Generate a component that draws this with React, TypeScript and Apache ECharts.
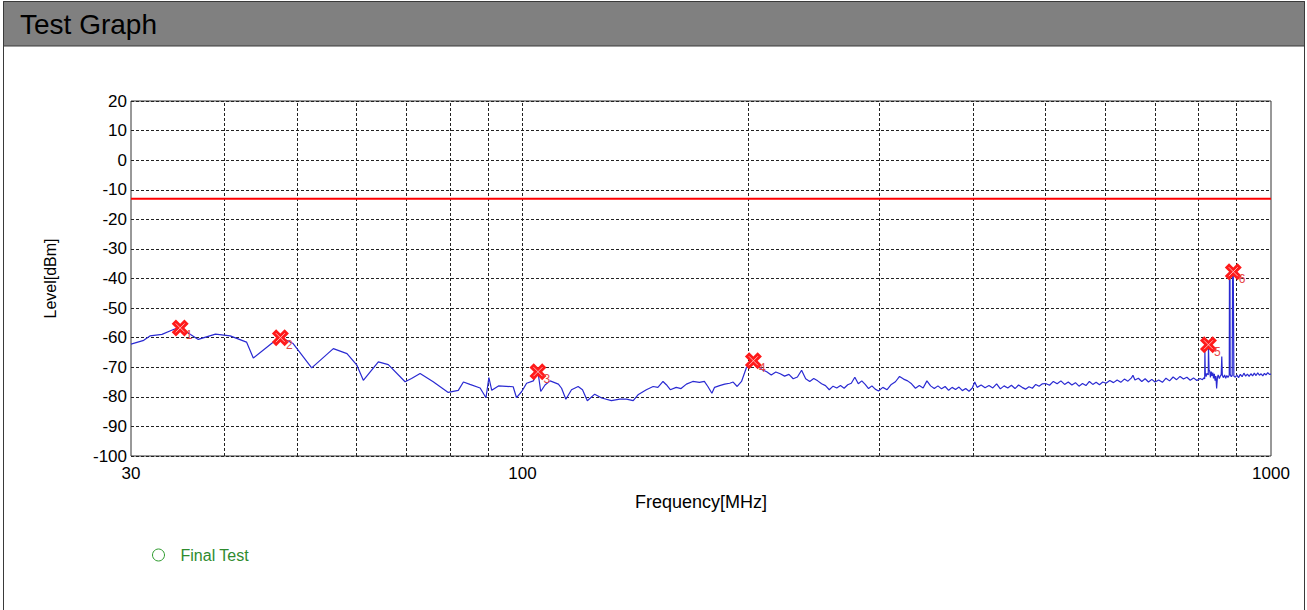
import React, { useEffect, useRef } from "react";
import * as echarts from "echarts";

// ---------- data ----------
const chartTitle = "Test Graph";
const xAxisName = "Frequency[MHz]";
const yAxisName = "Level[dBm]";
const xTickLabels = [30, 100, 1000];
const xGridFreqs = [40, 50, 60, 70, 80, 90, 100, 200, 300, 400, 500, 600, 700, 800, 900];
const yMin = -100;
const yMax = 20;
const yStep = 10;

const limitFreqs = [30, 1000];
const limitLevels = [-13, -13];

const markerFreqs = [34.9, 47.5, 104.9, 203.5, 825, 890.5];
const markerLevels = [-56.7, -60.0, -71.5, -67.8, -62.4, -37.7];
const markerLabels = ["1", "2", "3", "4", "5", "6"];
const legendName = "Final Test";

// [MHz, dBm]
const tracePoints: [number, number][] = [
  [30, -62.2], [31.2, -60.9], [31.8, -59.4], [33.0, -58.9], [34.0, -57.5], [34.7, -56.6],
  [35.6, -58.1], [36.9, -60.6], [38.9, -58.8], [40.7, -59.4], [42.8, -61.5], [43.7, -66.9],
  [46.0, -62.4], [47.4, -59.8], [49.4, -62.0], [52.3, -70.2], [55.9, -63.7], [58.3, -65.4],
  [60.1, -69.3], [61.3, -74.4], [64.2, -68.2], [66.2, -69.1], [69.7, -74.9], [71.1, -73.8],
  [73.0, -72.1], [76.0, -74.9], [79.6, -78.5], [82.1, -77.8], [83.4, -75.0], [85.1, -75.8],
  [87.8, -77.0], [89.4, -80.3], [90.2, -73.5], [91.0, -77.8], [92.9, -76.3], [97.2, -76.6],
  [98.2, -80.3], [99.8, -78.2], [101.3, -75.4], [103.4, -74.6], [104.9, -71.6], [105.8, -78.2],
  [107.2, -76.0], [108.9, -74.6], [111.7, -75.7], [112.8, -77.1], [114.3, -80.8], [116.3, -77.6],
  [118.7, -76.5], [120.3, -77.6], [122.1, -81.3], [124.9, -79.1], [127.6, -80.4], [131.5, -81.3],
  [134.9, -80.8], [137.7, -80.8], [140.6, -81.3], [142.7, -79.3], [146.4, -77.6], [149.5, -76.5],
  [151.7, -76.8], [154.1, -74.8], [155.7, -75.9], [157.6, -77.6], [160.5, -76.8], [162.9, -77.2],
  [165.6, -75.7], [168.9, -74.8], [172.4, -75.1], [175.0, -74.8], [176.9, -76.5], [179.1, -78.8],
  [180.6, -76.8], [183.4, -76.2], [186.3, -75.7], [189.2, -75.4], [191.2, -75.0], [193.6, -76.5],
  [196.2, -74.8], [199.2, -70.1], [203.2, -67.6],
  [206, -69.3], [209, -70.8], [212, -71.5], [215, -72.6], [218, -71.6], [221, -72.2],
  [224, -73.0], [227, -72.4], [230, -73.9], [233, -73.3], [236, -71.0], [239, -73.9],
  [242, -74.8], [245, -73.8], [248, -74.6], [251, -75.6], [254, -76.2], [257, -77.6],
  [260, -76.4], [263, -77.0], [266, -76.2], [269, -77.1], [272, -75.9], [275, -75.4],
  [278, -73.4], [281, -75.6], [284, -74.6], [287, -75.8], [290, -77.2], [293, -76.3],
  [296, -77.4], [299, -78.0],
  [303, -76.8], [307, -77.6], [311, -75.8], [315, -74.9], [319, -73.1], [323, -74.0],
  [327, -74.6], [331, -75.6], [335, -77.1], [339, -76.2], [343, -77.0], [347, -74.6],
  [351, -76.3], [355, -77.2], [359, -76.3], [363, -77.3], [367, -76.5], [371, -77.8],
  [375, -76.8], [379, -77.5], [383, -76.7], [387, -77.9], [391, -77.2], [395, -78.1],
  [399, -77.0],
  [402, -75.0], [405, -76.8], [410, -76.0], [415, -76.9], [420, -76.2], [425, -77.0],
  [430, -75.6], [435, -77.3], [440, -76.3], [445, -77.0], [450, -76.1], [455, -77.2],
  [460, -76.0], [465, -76.8], [470, -77.4], [475, -76.6], [480, -77.1], [485, -75.8],
  [490, -76.4], [495, -75.6], [500, -75.5],
  [506, -76.1], [512, -74.8], [518, -75.6], [524, -74.6], [530, -75.8], [536, -75.0],
  [542, -76.0], [548, -75.2], [554, -76.4], [560, -75.5], [566, -76.2], [572, -74.8],
  [578, -75.8], [584, -75.1], [590, -75.9], [596, -75.0], [602, -75.4],
  [609, -74.5], [616, -75.2], [623, -74.3], [630, -75.1], [637, -74.0], [644, -74.7],
  [651, -73.6], [654, -72.7], [658, -74.3], [665, -73.7], [672, -74.8], [679, -73.9],
  [686, -75.0], [693, -74.1], [700, -75.0],
  [708, -74.3], [716, -75.1], [724, -73.7], [732, -74.6], [740, -73.3], [748, -74.2],
  [756, -73.1], [764, -74.0], [772, -73.4], [780, -74.4], [788, -73.6], [796, -74.5],
  [804, -73.8], [810, -74.2], [813, -73.6], [815.5, -73.9], [816, -64.2], [817, -72.0],
  [819, -73.2], [821, -72.1], [824.5, -72.6], [825, -62.4], [826.5, -71.0],
  [828, -71.2], [830, -73.4], [832, -71.5], [834, -72.9], [836, -71.8], [838, -73.8],
  [840, -72.2], [842, -74.5], [844, -73.0], [846, -77.2], [848, -73.5], [850, -72.6],
  [853, -73.8], [856, -72.9], [858, -72.5], [859.5, -66.4], [861, -72.8], [864, -73.5],
  [867, -72.6], [870, -73.7], [873, -72.8], [876, -73.4], [879.5, -72.7], [880, -40.0],
  [881.5, -40.2], [882, -72.4], [885, -73.2], [887.5, -72.8], [888.5, -38.0], [890.5, -37.7],
  [892, -73.0], [896, -73.4], [900, -72.6], [905, -73.5], [910, -72.4], [915, -73.2],
  [920, -72.0], [925, -73.0], [930, -72.3], [935, -73.1], [940, -72.2], [945, -72.9],
  [950, -72.0], [955, -72.8], [960, -71.9], [965, -72.7], [970, -72.2], [975, -72.9],
  [980, -72.1], [985, -72.6], [990, -71.8], [995, -72.4], [1000, -72.3],
];

const FONT = "'Liberation Sans', Arial, sans-serif";
const X_SYMBOL =
  "path://M2.5,0L5,2.5L7.5,0L10,2.5L7.5,5L10,7.5L7.5,10L5,7.5L2.5,10L0,7.5L2.5,5L0,2.5Z";
const X_INNER = "path://M0,0L10,10M10,0L0,10";

export default function App() {
  const ref = useRef<HTMLDivElement>(null);

  useEffect(() => {
    if (!ref.current) return;
    const chart = echarts.init(ref.current, undefined, { renderer: "svg" });

    const markerData = markerFreqs.map((f, i) => [f, markerLevels[i]]);

    chart.setOption({
      animation: false,
      backgroundColor: "#ffffff",
      textStyle: { fontFamily: FONT },
      graphic: [
        {
          type: "rect",
          shape: { x: 3.5, y: 1.5, width: 1301, height: 700 },
          style: { fill: "none", stroke: "#3a3a3a", lineWidth: 1 },
          silent: true,
          z: 100,
        },
        {
          type: "rect",
          shape: { x: 3.5, y: 1.5, width: 1301, height: 44.5 },
          style: { fill: "#808080", stroke: "#3a3a3a", lineWidth: 1 },
          silent: true,
        },
        {
          type: "text",
          x: 20,
          y: 24,
          style: {
            text: chartTitle,
            fill: "#000",
            font: `28px ${FONT}`,
            textVerticalAlign: "middle",
          },
          silent: true,
        },
      ],
      grid: {
        left: 131,
        right: 36,
        top: 101,
        height: 355,
        show: true,
        borderColor: "#333",
        borderWidth: 1,
        backgroundColor: "transparent",
      },
      legend: {
        data: [
          {
            name: legendName,
            icon: "circle",
            itemStyle: { color: "#ffffff", borderColor: "#2e9b2e", borderWidth: 1 },
          },
        ],
        left: 152,
        top: 547,
        padding: 0,
        itemWidth: 34,
        itemHeight: 12,
        selectedMode: false,
        textStyle: { color: "#2e8b2e", fontSize: 16, fontFamily: FONT },
      },
      xAxis: {
        type: "log",
        logBase: 10,
        min: 30,
        max: 1000,
        axisLine: { show: false },
        axisTick: { show: false },
        splitLine: { show: false },
        axisLabel: {
          customValues: xTickLabels,
          formatter: (v: number) => String(Math.round(v)),
          color: "#000",
          fontSize: 17,
          margin: 9,
          fontFamily: FONT,
        },
        name: xAxisName,
        nameLocation: "middle",
        nameGap: 37,
        nameTextStyle: { color: "#000", fontSize: 18, fontFamily: FONT },
      },
      yAxis: {
        type: "value",
        min: yMin,
        max: yMax,
        interval: yStep,
        axisLine: { show: false },
        axisTick: { show: false },
        axisLabel: { color: "#000", fontSize: 17, margin: 4, fontFamily: FONT },
        splitLine: { lineStyle: { color: "#222", type: [3, 2], width: 1 } },
        name: yAxisName,
        nameLocation: "middle",
        nameGap: 73,
        nameTextStyle: { color: "#000", fontSize: 16, fontFamily: FONT },
      },
      series: [
        {
          type: "line",
          name: "Limit",
          data: limitFreqs.map((f, i) => [f, limitLevels[i]]),
          symbol: "none",
          lineStyle: { color: "#ff0000", width: 2 },
          silent: true,
          z: 2,
          markLine: {
            silent: true,
            z: 1,
            symbol: ["none", "none"],
            label: { show: false },
            lineStyle: { color: "#222", type: [3, 2], width: 1 },
            data: xGridFreqs.map((f) => ({ xAxis: f })),
          },
        },
        {
          type: "line",
          name: "Trace",
          data: tracePoints,
          symbol: "none",
          showSymbol: false,
          lineStyle: { color: "#2a2ad2", width: 1.2 },
          silent: true,
          z: 3,
        },
        {
          type: "scatter",
          name: legendName,
          data: markerData,
          symbol: X_SYMBOL,
          symbolSize: 17,
          itemStyle: { color: "#ff1a1a", opacity: 1 },
          label: {
            show: true,
            position: [14, 10],
            formatter: (p: any) => markerLabels[p.dataIndex],
            color: "#e64545",
            fontSize: 12,
            fontFamily: FONT,
          },
          silent: true,
          z: 5,
        },
        {
          type: "scatter",
          name: "markerInner",
          data: markerData,
          symbol: X_INNER,
          symbolSize: 9,
          itemStyle: { color: "rgba(0,0,0,0)", borderColor: "#ffd0d0", borderWidth: 1 },
          silent: true,
          z: 6,
        },
      ],
    });

    return () => chart.dispose();
  }, []);

  return (
    <div
      ref={ref}
      style={{ position: "absolute", left: 0, top: 0, width: 1307, height: 610 }}
    />
  );
}
